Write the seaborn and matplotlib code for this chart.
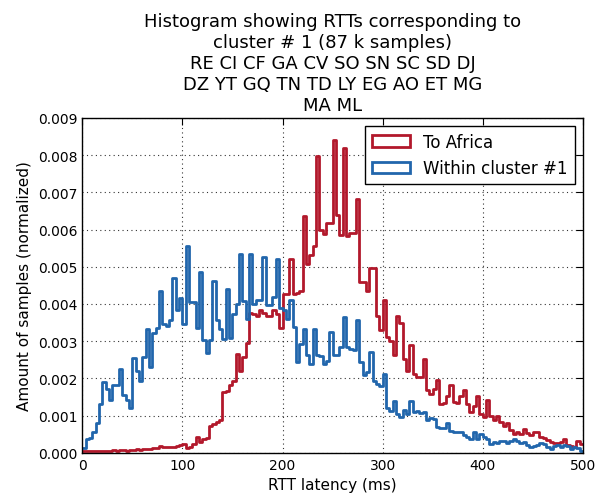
import matplotlib
matplotlib.use("Agg")
import matplotlib.pyplot as plt
from matplotlib.patches import Patch
from matplotlib.ticker import FormatStrFormatter
import numpy as np
import pandas as pd
import seaborn as sns

# 150 bins over 0-500 ms, heights (units of 1e-3)
n_bins = 150
x_range = (0, 500)
bin_centers = np.linspace(0, 500, n_bins + 1)[:-1] + 250 / n_bins

to_africa = [
    0.04, 0.05, 0.04, 0.05, 0.06, 0.05, 0.04, 0.06, 0.05, 0.07,
    0.06, 0.08, 0.07, 0.06, 0.08, 0.07, 0.09, 0.08, 0.10, 0.09,
    0.11, 0.13, 0.12, 0.18, 0.16, 0.15, 0.16, 0.15, 0.17, 0.20,
    0.24, 0.13, 0.15, 0.24, 0.42, 0.29, 0.38, 0.40, 0.73, 0.78,
    0.84, 0.87, 1.63, 1.65, 1.81, 1.94, 2.66, 2.19, 2.57, 2.96,
    3.76, 3.72, 3.69, 3.83, 3.76, 3.67, 3.67, 3.83, 3.74, 3.35,
    4.27, 4.27, 5.20, 4.27, 4.30, 4.34, 6.36, 5.08, 5.33, 5.56,
    7.99, 5.98, 5.89, 6.18, 6.18, 8.40, 6.40, 5.86, 8.19, 5.82,
    5.91, 5.91, 6.81, 4.59, 4.59, 4.36, 4.96, 4.96, 3.69, 3.30,
    4.12, 3.10, 3.00, 2.62, 3.69, 3.50, 2.53, 2.19, 2.89, 2.12,
    2.05, 2.05, 2.53, 1.68, 1.59, 1.72, 1.97, 1.32, 1.34, 1.54,
    1.81, 1.36, 1.34, 1.54, 1.68, 1.32, 1.09, 1.27, 1.54, 1.05,
    0.96, 1.43, 1.00, 0.87, 1.00, 0.82, 0.73, 0.80, 0.60, 0.51,
    0.56, 0.51, 0.65, 0.54, 0.47, 0.56, 0.57, 0.42, 0.39, 0.35,
    0.30, 0.27, 0.27, 0.29, 0.38, 0.20, 0.18, 0.15, 0.33, 0.24,
]

within_cluster = [
    0.13, 0.36, 0.39, 0.57, 0.81, 1.30, 1.90, 1.72, 1.41, 1.83,
    1.83, 2.26, 1.56, 1.43, 1.20, 2.54, 2.19, 1.93, 2.57, 3.32,
    2.30, 3.23, 3.35, 4.36, 3.47, 3.42, 3.58, 4.70, 3.84, 4.16,
    3.47, 5.57, 4.05, 4.05, 3.35, 4.87, 3.02, 2.69, 3.02, 4.63,
    3.56, 3.33, 3.05, 4.39, 3.08, 3.74, 4.00, 5.35, 4.07, 3.60,
    5.35, 4.00, 4.10, 4.10, 5.26, 3.96, 3.96, 4.18, 5.20, 3.90,
    3.85, 3.60, 4.10, 3.38, 2.44, 2.93, 3.33, 2.62, 2.39, 3.33,
    2.62, 2.60, 2.39, 2.48, 3.24, 2.62, 2.62, 2.84, 3.65, 2.84,
    2.80, 2.75, 3.56, 2.45, 2.08, 2.17, 2.70, 1.94, 1.85, 1.80,
    2.12, 1.20, 1.12, 1.38, 1.05, 0.95, 1.16, 1.05, 1.38, 1.09,
    1.12, 1.07, 1.09, 0.87, 0.93, 0.90, 0.70, 0.66, 0.66, 0.81,
    0.58, 0.55, 0.57, 0.57, 0.48, 0.42, 0.38, 0.56, 0.36, 0.50,
    0.42, 0.38, 0.24, 0.29, 0.27, 0.31, 0.31, 0.27, 0.33, 0.38,
    0.31, 0.27, 0.29, 0.20, 0.15, 0.18, 0.22, 0.27, 0.24, 0.15,
    0.11, 0.18, 0.22, 0.15, 0.20, 0.18, 0.11, 0.15, 0.13, 0.06,
]

series_labels = ["To Africa", "Within cluster #1"]
series_colors = ["#b2182b", "#2166ac"]

title = ("Histogram showing RTTs corresponding to\n"
         "cluster # 1 (87 k samples)\n"
         "RE CI CF GA CV SO SN SC SD DJ\n"
         "DZ YT GQ TN TD LY EG AO ET MG\n"
         "MA ML")

sns.set_style("white")
plt.rcParams.update({
    "font.family": ["DejaVu Sans"],
    "text.color": "black",
    "axes.labelcolor": "black",
    "xtick.direction": "in",
    "ytick.direction": "in",
    "xtick.top": True,
    "ytick.right": True,
    "xtick.major.size": 5,
    "ytick.major.size": 5,
    "xtick.color": "black",
    "ytick.color": "black",
    "axes.edgecolor": "black",
    "axes.linewidth": 1.0,
})

fig = plt.figure(figsize=(5.96, 5.02), dpi=100)
ax = fig.add_axes([0.138, 0.096, 0.840, 0.667])

for vals, col in zip([to_africa, within_cluster], series_colors):
    df = pd.DataFrame({"rtt": bin_centers, "w": np.array(vals) * 1e-3})
    sns.histplot(data=df, x="rtt", weights="w", bins=n_bins, binrange=x_range,
                 element="step", fill=False, color=col, linewidth=2, ax=ax)

ax.set_xlim(0, 500)
ax.set_ylim(0, 0.009)
ax.set_yticks(np.arange(0, 0.0091, 0.001))
ax.yaxis.set_major_formatter(FormatStrFormatter("%.3f"))
ax.tick_params(labelsize=10)
ax.grid(True, color="black", linestyle=(0, (1, 3)), linewidth=0.8, alpha=0.8)
ax.set_axisbelow(True)

ax.set_title(title, fontsize=13)
ax.set_xlabel("RTT latency (ms)", fontsize=11)
ax.set_ylabel("Amount of samples (normalized)", fontsize=11)

handles = [Patch(facecolor="none", edgecolor=c, linewidth=2) for c in series_colors]
leg = ax.legend(handles, series_labels, loc="upper right", fontsize=12,
                fancybox=False, framealpha=1, edgecolor="black",
                handlelength=2.3, handleheight=0.7)
leg.get_frame().set_linewidth(1.0)

plt.savefig("out.png", dpi=100)
